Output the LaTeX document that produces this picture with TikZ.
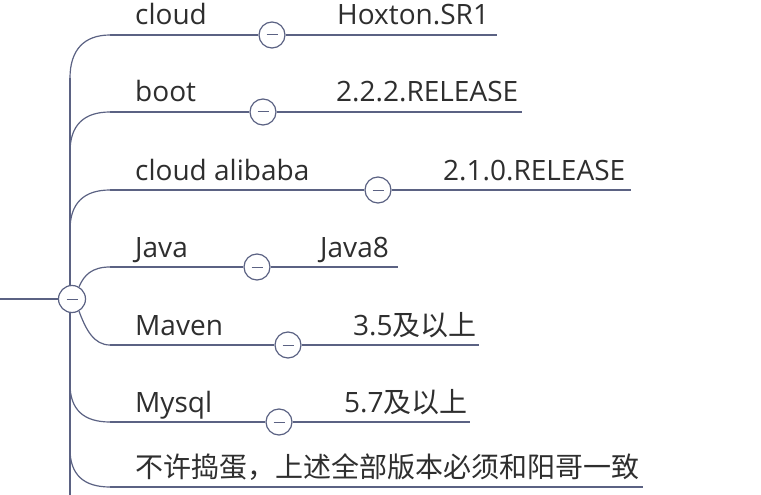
\documentclass[tikz,border=0pt]{standalone}
\usepackage{fontspec}
\setmainfont{Open Sans}
\newfontfamily\cjk{Noto Sans CJK SC}
\definecolor{ln}{HTML}{5B6283}
\definecolor{tx}{HTML}{2E2E2E}
\begin{document}
\begin{tikzpicture}[x=1pt,y=-1pt,
  conn/.style={draw=ln,line width=1.2pt},
  tog/.style={circle,draw=ln,line width=1.2pt,fill=white,minimum size=26pt,inner sep=0pt,
    path picture={\draw[ln,line width=1pt] ([xshift=-5.5pt]path picture bounding box.center) -- ([xshift=5.5pt]path picture bounding box.center);}},
  lbl/.style={anchor=base west,inner sep=0pt,text=tx,font=\fontsize{28}{32}\selectfont}]
\useasboundingbox (0,0) rectangle (761,495);
\fill[white] (0,0) rectangle (761,495);
% trunk
\coordinate (ttop) at (70,78);
\coordinate (tbot) at (70,495);
\coordinate (lft) at (0,299);
\draw[conn] (ttop) -- (tbot);
\node[tog,minimum size=27pt] (root) at (72,299) {};
\draw[conn] (lft) -- (root.west);
% branch starts / ends
\coordinate (b1) at (110,35);  \coordinate (e1) at (497,35);
\coordinate (b2) at (110,112); \coordinate (e2) at (522,112);
\coordinate (b3) at (110,190); \coordinate (e3) at (631,190);
\coordinate (b4) at (110,267); \coordinate (e4) at (398,267);
\coordinate (b5) at (110,345); \coordinate (e5) at (479,345);
\coordinate (b6) at (110,422); \coordinate (e6) at (470,422);
\coordinate (b7) at (110,487); \coordinate (e7) at (643,487);
\coordinate (k1) at (70,78);
\coordinate (k2) at (70,152);
\coordinate (k3) at (70,230);
\coordinate (k6) at (70,384);
\coordinate (k7) at (70,449);
% curves
\draw[conn] (k1) .. controls (70,50) and (84,35) .. (b1);
\draw[conn] (k2) .. controls (70,125) and (84,112) .. (b2);
\draw[conn] (k3) .. controls (70,203) and (84,190) .. (b3);
\draw[conn] (root.60) .. controls (84,275) and (92,267) .. (b4);
\draw[conn] (root.-60) .. controls (86,330) and (94,345) .. (b5);
\draw[conn] (k6) .. controls (70,410) and (84,422) .. (b6);
\draw[conn] (k7) .. controls (70,475) and (84,487) .. (b7);
% toggles
\node[tog] (c1) at (272,35) {};
\node[tog] (c2) at (263,112) {};
\node[tog] (c3) at (378,190) {};
\node[tog] (c4) at (257,267) {};
\node[tog] (c5) at (288,345) {};
\node[tog] (c6) at (279,422) {};
\draw[conn] (b1) -- (c1.west); \draw[conn] (c1.east) -- (e1);
\draw[conn] (b2) -- (c2.west); \draw[conn] (c2.east) -- (e2);
\draw[conn] (b3) -- (c3.west); \draw[conn] (c3.east) -- (e3);
\draw[conn] (b4) -- (c4.west); \draw[conn] (c4.east) -- (e4);
\draw[conn] (b5) -- (c5.west); \draw[conn] (c5.east) -- (e5);
\draw[conn] (b6) -- (c6.west); \draw[conn] (c6.east) -- (e6);
\draw[conn] (b7) -- (e7);
% labels
\node[lbl] (l1) at (135,25) {cloud};
\node[lbl] (l2) at (135,102) {boot};
\node[lbl] (l3) at (135,180) {cloud alibaba};
\node[lbl] (l4) at (135,257) {Java};
\node[lbl] (l5) at (135,335) {Maven};
\node[lbl] (l6) at (135,412) {Mysql};
\node[lbl] (l7) at (135,477) {\cjk 不许捣蛋，上述全部版本必须和阳哥一致};
\node[lbl] (v1) at (337,25) {Hoxton.SR1};
\node[lbl] (v2) at (336,102) {2.2.2.RELEASE};
\node[lbl] (v3) at (443,180) {2.1.0.RELEASE};
\node[lbl] (v4) at (320,257) {Java8};
\node[lbl] (v5) at (353,335) {3.5{\cjk 及以上}};
\node[lbl] (v6) at (344,412) {5.7{\cjk 及以上}};
\end{tikzpicture}
\end{document}
